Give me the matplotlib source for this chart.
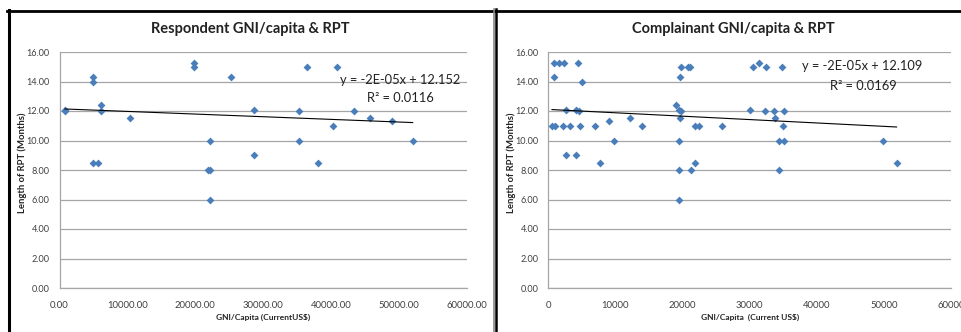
import numpy as np
import matplotlib
matplotlib.use("Agg")
import matplotlib.pyplot as plt
from matplotlib.lines import Line2D

plt.rcParams['font.family'] = ['Lato', 'DejaVu Sans']

# Respondent data
resp_gni = [800, 800, 4900, 4950, 6150, 6150, 5000, 5600, 10400, 19800, 19800,
            25200, 22100, 21800, 22200, 22200, 28700, 28700, 35300, 35300, 36500,
            40850, 38000, 40200, 43300, 45700, 48900, 52000]
resp_rpt = [12.0, 12.05, 14.0, 14.33, 12.4, 12.0, 8.5, 8.5, 11.5, 15.25, 15.0,
            14.33, 10.0, 8.0, 8.0, 6.0, 12.1, 9.0, 12.0, 10.0, 15.0,
            15.0, 8.5, 11.0, 12.0, 11.5, 11.35, 10.0]
# trendline (slope, intercept)
resp_trend = (-1.8e-5, 12.152)

# Complainant data
comp_gni = [790, 1590, 2380, 4410, 790, 5010, 2680, 4120, 4560, 550, 1040, 2180,
            3170, 4760, 6990, 13940, 8980, 12200, 9720, 2680, 4120, 7640,
            19050, 19500, 19800, 19650, 19600, 19700, 19500, 19500, 19500,
            20800, 21100, 21200, 21900, 21900, 22400, 25940,
            30060, 30460, 31400, 32390, 32290, 33630, 33780, 34770, 35120, 34920,
            34420, 35120, 34420, 49900, 51890]
comp_rpt = [15.25, 15.25, 15.25, 15.25, 14.33, 14.0, 12.05, 12.05, 12.0, 11.0, 11.0, 11.0,
            11.0, 11.0, 11.0, 11.0, 11.3, 11.5, 10.0, 9.0, 9.0, 8.5,
            12.4, 12.1, 12.0, 11.5, 14.33, 15.0, 10.0, 8.0, 6.0,
            15.0, 15.0, 8.0, 8.5, 11.0, 11.0, 11.0,
            12.05, 15.0, 15.25, 15.0, 12.0, 12.0, 11.5, 15.0, 12.0, 11.0,
            10.0, 10.0, 8.0, 10.0, 8.5]
comp_trend = (-2.3e-5, 12.109)

y_ticks = [0, 2, 4, 6, 8, 10, 12, 14, 16]
x_ticks = [0, 10000, 20000, 30000, 40000, 50000, 60000]

W, H = 961, 332
fig = plt.figure(figsize=(W / 100, H / 100), dpi=100)

panels = [
    dict(gni=resp_gni, rpt=resp_rpt, trend=resp_trend, x0=59.5, x1=467,
         title="Respondent GNI/capita & RPT",
         tcx=250, xlab="GNI/Capita (CurrentUS$)", xlcx=263, ylx=22,
         xfmt="{:.2f}", eq="y = -2E-05x + 12.152", r2="R² = 0.0116",
         eqpos=(400, 80), r2pos=(400, 98)),
    dict(gni=comp_gni, rpt=comp_rpt, trend=comp_trend, x0=548.3, x1=951,
         title="Complainant GNI/capita & RPT",
         tcx=733, xlab="GNI/Capita  (Current US$)", xlcx=750, ylx=511.5,
         xfmt="{:.0f}", eq="y = -2E-05x + 12.109", r2="R² = 0.0169",
         eqpos=(862, 66), r2pos=(863, 86)),
]

ytop, ybot = 52, 288
for p in panels:
    ax = fig.add_axes([p['x0'] / W, 1 - ybot / H, (p['x1'] - p['x0']) / W, (ybot - ytop) / H])
    ax.set_xlim(0, 60000)
    ax.set_ylim(0, 16)
    ax.set_yticks(y_ticks)
    ax.set_yticklabels([f"{v:.2f}" for v in y_ticks], fontsize=6.6, color='#404040')
    ax.set_xticks(x_ticks)
    ax.set_xticklabels([p['xfmt'].format(v) for v in x_ticks], fontsize=6.8, color='#404040')
    ax.tick_params(axis='y', length=0, pad=7)
    ax.tick_params(axis='x', length=0, pad=9)
    ax.grid(axis='y', color='#a6a6a6', linewidth=0.9)
    ax.set_axisbelow(True)
    for s in ['top', 'right']:
        ax.spines[s].set_visible(False)
    for s in ['left', 'bottom']:
        ax.spines[s].set_color('#a6a6a6')
        ax.spines[s].set_linewidth(0.9)
    ax.scatter(p['gni'], p['rpt'], marker='D', s=16, color='#4a7ebb', zorder=3, linewidths=0)
    g = np.array(p['gni'], dtype=float)
    m, b = p['trend']
    xs = np.array([g.min(), g.max()])
    ax.plot(xs, m * xs + b, color='black', linewidth=0.8, zorder=4)
    fig.text(p['eqpos'][0] / W, 1 - p['eqpos'][1] / H, p['eq'], fontsize=9.3,
             ha='center', va='center', color='#222222')
    fig.text(p['r2pos'][0] / W, 1 - p['r2pos'][1] / H, p['r2'], fontsize=9.3,
             ha='center', va='center', color='#222222')
    fig.text(p['tcx'] / W, 1 - 29 / H, p['title'], fontsize=10.5, fontweight='bold',
             ha='center', va='center', color='#222222')
    fig.text(p['xlcx'] / W, 1 - 317 / H, p['xlab'], fontsize=6, fontweight='bold',
             ha='center', va='center', color='#222222')
    fig.text(p['ylx'] / W, 1 - 163 / H, "Length of RPT (Months)", fontsize=6.8,
             fontweight='bold', rotation=90, ha='center', va='center', color='#222222')

# frame lines
def hline(y, x0, x1, lw, c='black'):
    fig.add_artist(Line2D([x0 / W, x1 / W], [1 - y / H, 1 - y / H], color=c, linewidth=lw))

def vline(x, y0, y1, lw, c='black'):
    fig.add_artist(Line2D([x / W, x / W], [1 - y0 / H, 1 - y1 / H], color=c, linewidth=lw))

hline(10.5, 7, 494, 2.0)
hline(10.5, 496, 961, 2.0)
vline(8.5, 9.5, 332, 2.2)
vline(493.5, 9, 332, 1.2, '#888888')
vline(496.5, 9, 332, 1.8)

fig.savefig("out.png", dpi=100)
